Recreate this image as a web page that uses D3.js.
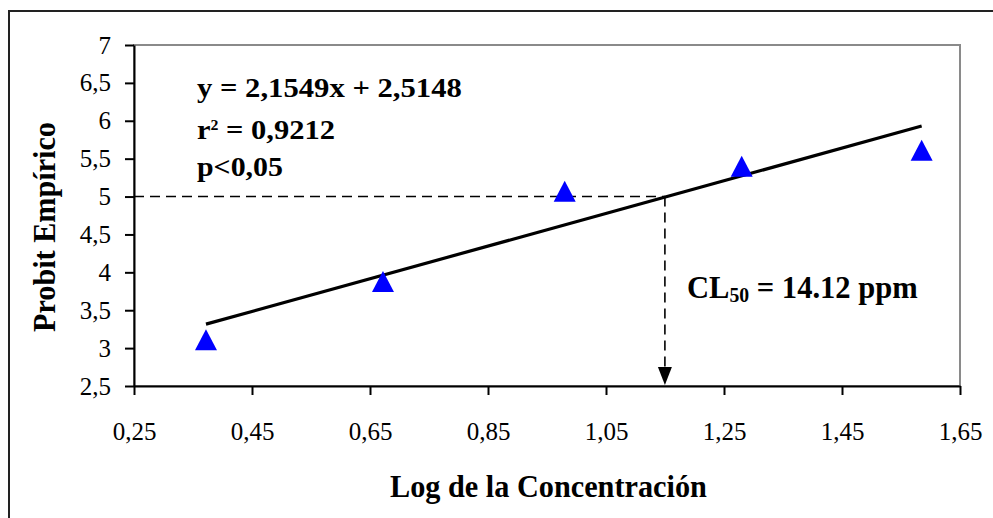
<!DOCTYPE html>
<html>
<head>
<meta charset="utf-8">
<script src="https://cdn.jsdelivr.net/npm/d3@7"></script>
<style>
  html, body { margin: 0; padding: 0; background: #fff; }
  svg { display: block; }
</style>
</head>
<body>
<script>
// Probit regression data: log10 of concentration vs. empirical probit
const logConc = [0.372, 0.672, 0.98, 1.28, 1.585];
const probit = [3.11, 3.88, 5.07, 5.40, 5.61];
const slope = 2.1549;
const intercept = 2.5148;
const rSquared = 0.9212;
const cl50 = 14.12; // ppm
const xTicks = [0.25, 0.45, 0.65, 0.85, 1.05, 1.25, 1.45, 1.65];
const yTicks = [2.5, 3, 3.5, 4, 4.5, 5, 5.5, 6, 6.5, 7];

const W = 993, H = 518;
const plot = { left: 134, right: 960, top: 45, bottom: 386 };

const svg = d3.select("body").append("svg")
  .attr("width", W).attr("height", H)
  .style("font-family", "'Liberation Serif', 'Times New Roman', serif");

svg.append("rect").attr("width", W).attr("height", H).attr("fill", "#fff");

// outer chart frame (top and left edges)
svg.append("path")
  .attr("d", `M9,${H} V11 H${W}`)
  .attr("fill", "none").attr("stroke", "#222").attr("stroke-width", 2);

const x = d3.scaleLinear().domain([0.25, 1.65]).range([plot.left, plot.right]);
const y = d3.scaleLinear().domain([2.5, 7]).range([plot.bottom, plot.top]);

const es = d3.formatLocale({ decimal: ",", thousands: ".", grouping: [3], currency: ["", ""] });
const fmt = es.format("~g");

// plot area border
svg.append("rect")
  .attr("x", plot.left).attr("y", plot.top)
  .attr("width", plot.right - plot.left).attr("height", plot.bottom - plot.top)
  .attr("fill", "none").attr("stroke", "#8a8a8a").attr("stroke-width", 2);

// axes
const xAxis = svg.append("g")
  .attr("transform", `translate(0,${plot.bottom})`)
  .call(d3.axisBottom(x).tickValues(xTicks).tickFormat(fmt).tickSize(9).tickSizeOuter(0).tickPadding(27));
const yAxis = svg.append("g")
  .attr("transform", `translate(${plot.left},0)`)
  .call(d3.axisLeft(y).tickValues(yTicks).tickFormat(fmt).tickSize(9).tickSizeOuter(0).tickPadding(14));

[xAxis, yAxis].forEach(g => {
  g.select(".domain").attr("stroke", "#000").attr("stroke-width", 2);
  g.selectAll(".tick line").attr("stroke", "#000").attr("stroke-width", 2);
  g.selectAll(".tick text")
    .attr("fill", "#000")
    .style("font-family", "'Liberation Serif', 'Times New Roman', serif")
    .style("font-size", "25px");
});

// stretch/compress a text node horizontally so it spans a given width
function fitWidth(sel, target) {
  const bb = sel.node().getBBox();
  const k = target / bb.width;
  const tx = +sel.attr("data-x"), ty = +sel.attr("data-y");
  sel.attr("x", 0).attr("y", 0)
    .attr("transform", `translate(${tx},${ty}) scale(${k},1)`);
}

// reference lines at probit 5 down to the CL50 on the x axis
const xCL = Math.log10(cl50);
svg.append("line")
  .attr("x1", x(0.25)).attr("x2", x(xCL))
  .attr("y1", y(5)).attr("y2", y(5))
  .attr("stroke", "#000").attr("stroke-width", 1.6).attr("stroke-dasharray", "10,6");
svg.append("line")
  .attr("x1", x(xCL)).attr("x2", x(xCL))
  .attr("y1", y(5)).attr("y2", y(2.5) - 14)
  .attr("stroke", "#000").attr("stroke-width", 1.6).attr("stroke-dasharray", "10,6");
svg.append("path")
  .attr("d", `M${x(xCL) - 7},${y(2.5) - 19} L${x(xCL) + 7},${y(2.5) - 19} L${x(xCL)},${y(2.5) - 1} Z`)
  .attr("fill", "#000");

// fitted regression line over the data range
const xExt = d3.extent(logConc);
svg.append("line")
  .attr("x1", x(xExt[0])).attr("y1", y(slope * xExt[0] + intercept))
  .attr("x2", x(xExt[1])).attr("y2", y(slope * xExt[1] + intercept))
  .attr("stroke", "#000").attr("stroke-width", 3.2);

// data points as blue triangles
const tw = 11, th = 10.5;
svg.append("g").selectAll("path")
  .data(logConc.map((v, i) => [v, probit[i]]))
  .join("path")
  .attr("d", d => {
    const cx = x(d[0]), cy = y(d[1]);
    return `M${cx},${cy - th} L${cx + tw},${cy + th} L${cx - tw},${cy + th} Z`;
  })
  .attr("fill", "#0000ff");

// regression annotation
const fmt4 = es.format(".4f");
const eq = svg.append("text")
  .attr("data-x", 197).attr("data-y", 97)
  .style("font-size", "27px").style("font-weight", "bold")
  .text(`y = ${fmt4(slope)}x + ${fmt4(intercept)}`);
fitWidth(eq, 265);

const r2 = svg.append("text")
  .attr("data-x", 197).attr("data-y", 139)
  .style("font-size", "27px").style("font-weight", "bold");
r2.append("tspan").text("r");
r2.append("tspan").attr("dy", -9).style("font-size", "14px").text("2");
r2.append("tspan").attr("dy", 9).text(` = ${fmt4(rSquared)}`);
fitWidth(r2, 138);

const pv = svg.append("text")
  .attr("data-x", 197).attr("data-y", 176)
  .style("font-size", "27px").style("font-weight", "bold")
  .text("p<0,05");
fitWidth(pv, 86);

// CL50 label
const cl = svg.append("text")
  .attr("data-x", 687).attr("data-y", 298)
  .style("font-size", "31px").style("font-weight", "bold");
cl.append("tspan").text("CL");
cl.append("tspan").attr("dy", 4).style("font-size", "20px").text("50");
cl.append("tspan").attr("dy", -4).text(` = ${cl50} ppm`);
fitWidth(cl, 231);

// axis titles
const xt = svg.append("text")
  .attr("data-x", 390).attr("data-y", 497)
  .style("font-size", "31px").style("font-weight", "bold")
  .text("Log de la Concentración");
fitWidth(xt, 317);

const yt = svg.append("text")
  .attr("text-anchor", "middle")
  .attr("transform", "translate(55,227) rotate(-90)")
  .style("font-size", "31px").style("font-weight", "bold")
  .text("Probit Empírico");
const ybb = yt.node().getBBox();
yt.attr("transform", `translate(55,227) rotate(-90) scale(${210 / ybb.width},1)`);
</script>
</body>
</html>
